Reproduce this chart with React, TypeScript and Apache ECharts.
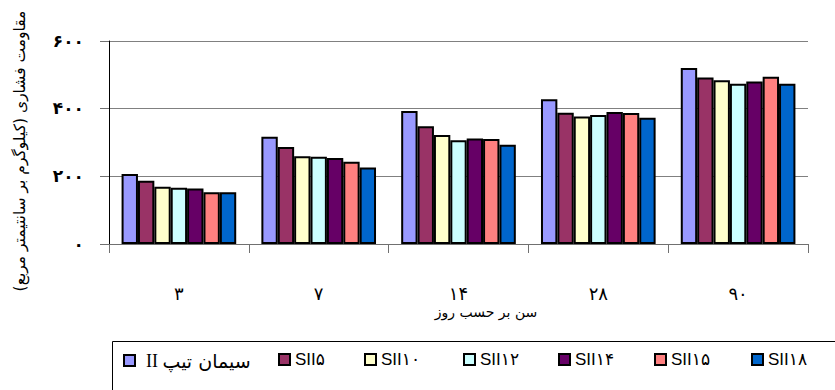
import React, { useEffect, useRef } from "react";
import * as echarts from "echarts";

// Curing age in days (x-axis categories, Persian digits)
const categories = ["۳", "۷", "۱۴", "۲۸", "۹۰"];
// Y-axis tick labels for 0, 200, 400, 600
const yTickLabels = ["۰", "۲۰۰", "۴۰۰", "۶۰۰"];

const seriesNames = ["typeII", "SII۵", "SII۱۰", "SII۱۲", "SII۱۴", "SII۱۵", "SII۱۸"];

// Compressive strength (kg/cm²)
const typeII = [207, 317, 393, 428, 520];
const sii5 = [187, 287, 348, 388, 492];
const sii10 = [169, 259, 322, 377, 484];
const sii12 = [166, 258, 307, 381, 474];
const sii14 = [164, 254, 312, 390, 480];
const sii15 = [153, 243, 310, 387, 494];
const sii18 = [153, 226, 293, 373, 474];

const seriesData = [typeII, sii5, sii10, sii12, sii14, sii15, sii18];
const colors = ["#9999FF", "#993366", "#FFFFCC", "#CCFFFF", "#660066", "#FF8080", "#0066CC"];
const legendLeft = [123, 278, 364, 463, 558, 654, 751];

const FONT = "'Liberation Sans', 'DejaVu Sans', sans-serif";

export default function App() {
  const ref = useRef<HTMLDivElement>(null);

  useEffect(() => {
    if (!ref.current) return;
    const chart = echarts.init(ref.current, null, { renderer: "svg" });

    const legends = seriesNames.map((name, i) => {
      const base: any = {
        data: [name],
        left: legendLeft[i],
        top: 351,
        padding: 0,
        itemWidth: 11,
        itemHeight: 11,
        itemGap: 0,
        icon: "rect",
        itemStyle: { borderColor: "#000", borderWidth: 2 },
        textStyle: { fontFamily: FONT, fontSize: 17, color: "#000" },
      };
      if (i === 0) {
        base.formatter = "{r|II }{f|سیمان تیپ}";
        base.textStyle.rich = {
          r: { fontFamily: "'Liberation Serif', serif", fontSize: 18, color: "#000", padding: [0, 0, 0, 6] },
          f: { fontFamily: "'DejaVu Sans', sans-serif", fontSize: 19, color: "#000" },
        };
      }
      return base;
    });

    chart.setOption({
      animation: false,
      backgroundColor: "#fff",
      grid: { left: 109, right: 27, top: 41, bottom: 146, containLabel: false },
      legend: legends,
      xAxis: {
        type: "category",
        data: categories,
        boundaryGap: true,
        axisLine: { show: true, lineStyle: { color: "#707070", width: 1 } },
        axisTick: { show: true, alignWithLabel: false, length: 9, lineStyle: { color: "#707070" } },
        axisLabel: { margin: 41, fontSize: 18, lineHeight: 18, color: "#000", fontFamily: FONT },
      },
      yAxis: {
        type: "value",
        min: 0,
        max: 600,
        interval: 200,
        axisLine: { show: true, lineStyle: { color: "#000", width: 1 } },
        axisTick: { show: true, length: 9, lineStyle: { color: "#707070" } },
        splitLine: { show: true, lineStyle: { color: "#808080", width: 1 } },
        axisLabel: {
          margin: 25,
          fontSize: 17,
          fontWeight: "bold",
          color: "#000",
          fontFamily: FONT,
          formatter: (v: number) => yTickLabels[Math.round(v / 200)],
        },
      },
      series: seriesData.map((d, i) => ({
        name: seriesNames[i],
        type: "bar",
        data: d,
        barGap: "0%",
        barCategoryGap: "18%",
        itemStyle: { color: colors[i], borderColor: "#000", borderWidth: 2 },
      })),
      graphic: [
        {
          type: "rect",
          shape: { x: 112.5, y: 341.5, width: 740, height: 80 },
          style: { fill: "none", stroke: "#000", lineWidth: 1 },
          silent: true,
        },
        {
          type: "text",
          x: 486,
          y: 312,
          style: {
            text: "سن بر حسب روز",
            fontFamily: "'DejaVu Sans', sans-serif",
            fontSize: 14,
            fill: "#000",
            align: "center",
            verticalAlign: "middle",
          },
        },
        {
          type: "text",
          x: 20,
          y: 151,
          rotation: Math.PI / 2,
          style: {
            text: "مقاومت فشاری (کیلوگرم بر سانتیمتر مربع)",
            fontFamily: "'DejaVu Sans', sans-serif",
            fontSize: 15.5,
            fill: "#000",
            align: "center",
            verticalAlign: "middle",
          },
        },
      ],
    });

    return () => chart.dispose();
  }, []);

  return (
    <div
      ref={ref}
      style={{ position: "fixed", left: 0, top: 0, width: 835, height: 390, background: "#fff" }}
    />
  );
}
